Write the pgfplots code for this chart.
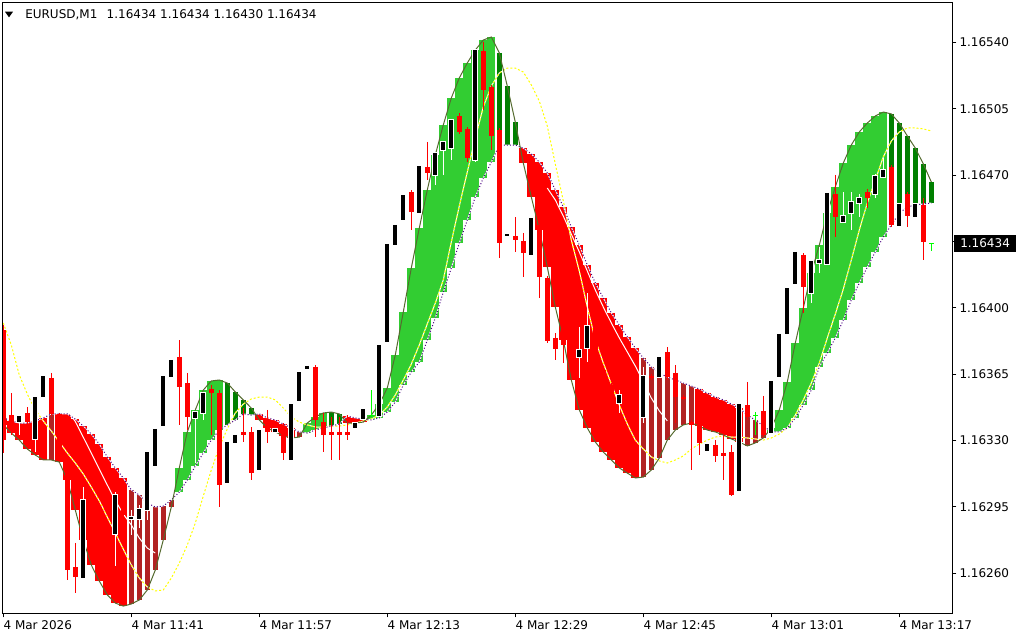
\documentclass[border=0pt]{standalone}
\usepackage{fontspec}
\setmainfont{DejaVu Sans}
\usepackage{pgfplots}
\usepackage{pgfplotstable}
\pgfplotsset{compat=1.18}

\definecolor{bandup}{RGB}{50,205,50}
\definecolor{bandtop}{RGB}{0,128,0}
\definecolor{banddn}{RGB}{255,0,0}
\definecolor{bandbot}{RGB}{178,34,34}
\definecolor{leadcol}{RGB}{85,107,47}
\definecolor{lagcol}{RGB}{75,0,130}
\definecolor{slowcol}{RGB}{255,255,0}
\definecolor{dojicol}{RGB}{0,255,0}

\newcommand{\tickfont}{\fontsize{9}{10}\selectfont}

% prices are stored in points above 1.16000 (434 = 1.16434)
% k = bar index (minutes from 11:25)
% lines: ol = leading line, ind = lagging line, yl = slow line
\pgfplotstableread{
k ol ind yl
0 338.2 341.9 392.0
1 333.9 340.3 380.4
2 330.2 339.2 364.5
3 325.5 339.2 354.5
4 322.3 340.3 346.1
5 319.7 341.9 340.3
6 319.7 344.0 335.0
7 318.6 344.0 329.2
8 309.1 344.0 323.4
9 293.3 341.3 318.1
10 277.5 337.6 312.3
11 264.3 333.4 305.4
12 255.8 328.1 298.1
13 248.5 321.3 289.6
14 244.2 315.5 281.2
15 242.6 310.2 272.7
16 243.7 303.9 264.3
17 245.8 301.2 257.4
18 251.1 297.0 252.7
19 261.6 294.9 250.6
20 277.5 295.4 251.1
21 294.9 298.6 257.4
22 315.5 302.8 265.3
23 334.5 309.1 274.8
24 346.1 316.5 286.4
25 356.6 323.4 300.7
26 361.4 330.2 314.4
27 361.9 335.5 326.6
28 360.3 338.2 336.1
29 355.6 340.8 344.5
30 351.4 344.0 349.2
31 347.1 343.4 351.9
32 340.8 344.0 352.9
33 336.6 341.9 352.9
34 334.5 340.8 351.4
35 332.4 338.7 347.1
36 331.3 336.6 342.4
37 331.8 334.5 339.7
38 339.2 333.9 338.2
39 342.4 335.5 337.1
40 344.5 336.6 337.1
41 345.0 337.6 337.6
42 344.0 338.7 337.6
43 339.2 342.9 338.2
44 339.2 341.9 339.2
45 339.7 341.3 340.3
46 343.4 340.8 341.3
47 349.2 341.9 343.4
48 357.7 345.0 347.7
49 375.1 350.3 354.0
50 397.8 359.3 361.9
51 421.0 366.1 370.3
52 442.1 371.4 380.4
53 462.2 383.0 391.5
54 480.6 394.6 402.5
55 496.5 408.3 414.7
56 510.7 421.0 434.7
57 521.3 434.2 453.7
58 529.2 446.3 471.7
59 536.0 458.5 489.6
60 541.3 468.5 506.0
61 542.9 476.9 517.0
62 534.5 485.9 523.9
63 517.0 485.9 526.5
64 498.0 485.9 526.5
65 476.4 484.3 524.4
66 458.5 481.2 517.6
67 441.1 476.9 509.1
68 421.5 471.1 495.9
69 400.4 462.2 475.9
70 383.0 453.2 456.4
71 361.9 442.6 435.8
72 346.1 433.1 419.4
73 336.6 422.6 400.4
74 329.2 413.1 383.0
75 323.9 405.2 370.9
76 319.7 397.3 359.8
77 315.5 390.9 348.7
78 312.8 384.6 338.7
79 310.2 378.8 330.2
80 310.7 373.5 325.5
81 314.4 368.8 321.3
82 320.7 365.6 319.2
83 330.2 363.5 318.1
84 335.5 361.9 319.7
85 338.2 360.3 321.8
86 339.2 358.7 325.5
87 337.6 357.2 328.1
88 335.5 355.0 330.2
89 334.5 352.9 331.8
90 332.9 351.4 332.4
91 330.8 349.2 331.8
92 329.2 347.1 331.8
93 327.1 343.4 331.3
94 328.7 340.8 330.8
95 331.3 337.6 330.2
96 336.6 334.5 331.3
97 346.1 334.5 333.4
98 360.9 336.6 336.6
99 381.4 341.9 343.4
100 399.9 348.7 351.4
101 418.4 356.6 360.3
102 433.1 368.8 370.9
103 450.0 376.2 384.1
104 463.8 384.1 396.7
105 476.4 393.6 409.9
106 485.9 404.1 425.2
107 492.8 413.1 441.1
108 497.5 421.5 455.3
109 501.2 429.5 467.4
110 503.3 437.4 479.6
111 502.3 443.7 488.0
112 497.5 450.0 492.8
113 490.7 453.2 494.9
114 484.3 454.3 494.9
115 475.9 454.8 494.4
116 466.4 455.3 493.3
}\lines

% white signal line, where it runs inside the falling band
\pgfplotstableread{
k w
8 346.1
9 340.0
10 331.7
11 323.3
12 314.9
13 306.5
14 298.2
15 291.2
16 285.4
17 278.5
18 273.2
19 270.6
}\whiteA

\pgfplotstableread{
k w
68 463.2
69 456.9
70 448.4
71 438.9
72 429.5
73 419.4
74 409.4
75 400.4
76 392.0
77 384.1
78 376.7
79 369.3
80 360.9
81 352.4
82 345.6
83 340.3
}\whiteB

% band bars, one table per colour: hi and lo of each bar
\pgfplotstableread{
k hi lo
22 315.5 302.8
23 334.5 309.1
24 346.1 316.5
25 356.6 323.4
26 361.4 330.2
27 361.9 335.5
38 339.2 333.9
39 342.4 335.5
40 344.5 336.6
46 343.4 340.8
47 349.2 341.9
48 357.7 345.0
49 375.1 350.3
50 397.8 359.3
51 421.0 366.1
52 442.1 371.4
53 462.2 383.0
54 480.6 394.6
55 496.5 408.3
56 510.7 421.0
57 521.3 434.2
58 529.2 446.3
59 536.0 458.5
60 541.3 468.5
61 542.9 476.9
96 336.6 334.5
97 346.1 334.5
98 360.9 336.6
99 381.4 341.9
100 399.9 348.7
101 418.4 356.6
102 433.1 368.8
103 450.0 376.2
104 463.8 384.1
105 476.4 393.6
106 485.9 404.1
107 492.8 413.1
108 497.5 421.5
109 501.2 429.5
110 503.3 437.4
}\bandup

\pgfplotstableread{
k hi lo
28 360.3 338.2
29 355.6 340.8
30 351.4 344.0
31 347.1 343.4
41 345.0 337.6
42 344.0 338.7
62 534.5 485.9
63 517.0 485.9
64 498.0 485.9
111 502.3 443.7
112 497.5 450.0
113 490.7 453.2
114 484.3 454.3
115 475.9 454.8
116 466.4 455.3
}\bandtop

\pgfplotstableread{
k hi lo
0 341.9 338.2
1 340.3 333.9
2 339.2 330.2
3 339.2 325.5
4 340.3 322.3
5 341.9 319.7
7 344.0 318.6
8 344.0 309.1
9 341.3 293.3
10 337.6 277.5
11 333.4 264.3
12 328.1 255.8
13 321.3 248.5
14 315.5 244.2
15 310.2 242.6
32 344.0 340.8
33 341.9 336.6
34 340.8 334.5
35 338.7 332.4
36 336.6 331.3
43 342.9 339.2
44 341.9 339.2
45 341.3 339.7
65 484.3 476.4
66 481.2 458.5
67 476.9 441.1
68 471.1 421.5
69 462.2 400.4
70 453.2 383.0
71 442.6 361.9
72 433.1 346.1
73 422.6 336.6
74 413.1 329.2
75 405.2 323.9
76 397.3 319.7
77 390.9 315.5
78 384.6 312.8
79 378.8 310.2
87 357.2 337.6
88 355.0 335.5
89 352.9 334.5
90 351.4 332.9
91 349.2 330.8
92 347.1 329.2
}\banddn

\pgfplotstableread{
k hi lo
6 344.0 319.7
16 303.9 243.7
17 301.2 245.8
18 297.0 251.1
19 294.9 261.6
20 295.4 277.5
21 298.6 294.9
37 334.5 331.8
80 373.5 310.7
81 368.8 314.4
82 365.6 320.7
83 363.5 330.2
84 361.9 335.5
85 360.3 338.2
86 358.7 339.2
93 343.4 327.1
94 340.8 328.7
95 337.6 331.3
}\bandbot

% rising candles
\pgfplotstableread{
k o h l c
2 339.7 343.4 332.9 342.9
4 330.8 353.5 323.9 352.9
5 352.9 364.5 352.4 364.0
10 257.4 305.4 257.4 298.6
14 280.6 302.8 263.8 301.2
16 288.6 293.3 280.1 289.6
17 288.6 295.9 283.8 293.8
18 293.3 325.0 288.0 323.9
19 316.5 336.6 315.5 336.1
20 337.6 364.5 336.6 364.0
21 363.5 373.0 363.0 372.5
24 341.9 345.5 318.1 345.0
25 344.5 355.6 340.8 355.0
28 307.5 329.7 307.0 329.2
29 328.7 333.4 328.1 332.9
32 314.4 336.1 313.9 335.5
34 334.5 336.6 333.9 336.1
36 319.7 349.8 319.2 349.2
37 350.8 366.6 350.3 366.1
38 367.7 369.8 367.2 369.3
44 336.6 339.7 336.1 339.2
45 341.3 347.1 340.8 346.6
47 342.9 380.9 342.4 380.4
48 382.0 434.2 381.4 433.7
49 433.1 444.2 432.6 443.7
50 446.3 460.1 445.8 459.5
52 450.0 475.3 449.5 474.8
54 470.1 482.2 464.8 481.7
55 483.3 488.0 470.1 487.5
56 484.3 499.6 478.0 499.1
59 478.0 536.6 476.9 536.0
63 437.9 439.5 437.4 438.9
66 427.9 447.9 427.3 447.4
72 374.0 389.9 363.0 377.7
73 378.8 407.8 371.4 390.4
77 349.8 356.6 344.5 354.0
80 342.4 368.8 339.2 364.0
82 363.5 374.6 363.0 374.0
88 324.4 328.7 323.9 328.1
92 303.3 349.8 302.8 349.2
96 333.9 361.9 333.4 361.4
97 363.5 386.7 363.0 386.2
98 386.2 411.0 385.6 410.4
99 412.6 430.0 412.0 429.5
101 407.8 425.2 402.5 424.7
102 423.6 432.1 418.4 425.2
103 423.1 461.1 422.6 460.6
105 445.3 461.1 444.7 448.4
106 450.0 461.1 441.1 455.8
107 455.3 460.1 447.9 457.9
109 460.1 470.6 457.9 469.6
110 469.0 479.1 468.5 472.7
112 443.2 455.3 442.6 454.8
114 447.9 455.3 447.4 454.8
}\bull

% falling candles
\pgfplotstableread{
k o h l c
0 388.3 390.9 323.4 330.2
1 343.4 355.0 332.9 339.2
3 344.5 347.6 338.2 339.7
6 363.0 365.6 342.9 344.0
7 344.0 344.5 320.7 322.3
8 319.7 322.3 256.4 261.6
9 263.2 275.9 249.5 257.9
11 298.6 299.6 288.0 290.7
12 290.7 291.2 280.1 282.8
13 282.8 283.8 277.5 279.6
15 301.2 302.3 288.0 290.7
22 374.0 383.0 338.2 358.2
23 360.3 365.6 335.5 342.4
26 357.2 359.3 332.9 355.0
27 355.0 356.6 294.9 306.5
30 334.5 347.1 329.2 332.9
31 334.5 337.1 309.1 312.8
33 340.8 346.1 328.7 334.5
35 336.6 339.2 319.7 323.4
39 368.8 369.8 331.8 340.8
40 339.7 344.5 323.9 332.9
41 334.5 342.4 319.7 332.9
42 334.5 342.4 319.7 332.9
43 334.5 343.4 330.2 332.9
51 461.1 462.0 441.1 450.6
53 474.3 487.5 467.4 471.1
57 501.2 502.8 491.7 492.8
58 494.4 495.4 476.9 479.1
60 535.5 540.3 504.4 514.9
61 516.5 517.6 483.3 490.7
62 493.8 494.9 426.3 434.2
64 437.9 447.9 429.5 435.8
65 435.3 439.5 416.3 428.9
67 443.7 444.7 405.2 416.3
68 415.7 416.8 381.4 382.5
69 384.1 386.7 372.5 378.3
70 404.1 409.4 370.9 380.4
71 380.4 383.0 367.2 372.5
74 389.3 390.4 364.5 367.2
75 367.2 368.2 356.6 359.3
76 359.3 360.3 351.4 352.4
78 354.0 355.0 346.1 348.7
79 348.7 349.8 340.8 342.4
81 364.0 365.1 361.9 363.0
83 376.7 379.3 361.9 363.5
84 365.6 369.8 339.2 352.9
85 352.9 354.0 351.4 351.9
86 339.7 340.8 314.4 338.2
87 338.2 339.2 322.3 328.7
89 327.6 330.2 318.6 321.8
90 323.4 332.9 309.1 321.8
91 323.9 327.6 300.7 301.2
93 348.7 360.9 340.8 342.4
95 345.5 353.5 331.8 332.9
100 427.9 428.9 397.3 411.0
104 460.1 470.1 437.4 447.9
108 461.1 462.7 452.7 457.9
111 474.3 475.3 442.6 443.7
113 460.1 461.1 442.6 448.4
115 454.3 457.9 425.2 434.7
}\bear

% doji candles
\pgfplotstableread{
k o h l c
46 343.4 356.6 342.4 343.4
94 343.4 345.0 332.9 343.4
116 434 434 430 434
}\doji

\pgfplotsset{
  vbar/.style 2 args={draw=none, mark=none,
    error bars/y dir=minus, error bars/y explicit,
    error bars/error mark=none,
    error bars/error bar style={line width=#2, draw=#1, solid}},
}

\begin{document}
\begin{tikzpicture}
\path[use as bounding box] (0,0) rectangle (768pt,480pt);
\fill[white] (0,0) rectangle (768pt,480pt);
\begin{axis}[
  at={(1.875pt,20.03pt)}, anchor=south west,
  width=712.35pt, height=457.95pt, scale only axis,
  xmin=-0.1, xmax=118.625, ymin=238.8, ymax=561.0,
  axis on top,
  axis line style={line width=0.75pt, black},
  xtick={0,16,32,48,64,80,96,112},
  xticklabels={4 Mar 2026,4 Mar 11:41,4 Mar 11:57,4 Mar 12:13,4 Mar 12:29,4 Mar 12:45,4 Mar 13:01,4 Mar 13:17},
  ytick={260,295,330,365,400,435,470,505,540},
  yticklabels={1.16260,1.16295,1.16330,1.16365,1.16400,,1.16470,1.16505,1.16540},
  xtick pos=bottom, ytick pos=right, yticklabel pos=right,
  tick align=outside, major tick length=3pt,
  tick style={line width=0.75pt, black},
  xticklabel style={anchor=north west, inner sep=0pt, yshift=-2.5pt, font=\tickfont},
  yticklabel style={anchor=west, inner sep=0pt, xshift=2.2pt, font=\tickfont},
]
% indicator band
\addplot[vbar={bandup}{6pt}] table[x=k, y=hi,
  y error minus expr={\thisrow{hi}-\thisrow{lo}}] {\bandup};
\addplot[vbar={bandtop}{3.75pt}] table[x=k, y=hi,
  y error minus expr={\thisrow{hi}-\thisrow{lo}}] {\bandtop};
\addplot[vbar={banddn}{6pt}] table[x=k, y=hi,
  y error minus expr={\thisrow{hi}-\thisrow{lo}}] {\banddn};
\addplot[vbar={bandbot}{3.75pt}] table[x=k, y=hi,
  y error minus expr={\thisrow{hi}-\thisrow{lo}}] {\bandbot};

% lines
\addplot[white, line width=0.75pt] table[x=k, y=w] {\whiteA};
\addplot[white, line width=0.75pt] table[x=k, y=w] {\whiteB};
\addplot[white, line width=0.75pt] table[x=k, y=yl] {\lines};
\addplot[slowcol, line width=0.75pt, dash pattern=on 1.5pt off 1.5pt] table[x=k, y=yl] {\lines};
\addplot[white, line width=0.75pt] table[x=k, y=ind] {\lines};
\addplot[lagcol, line width=0.75pt, dash pattern=on 0.75pt off 1.5pt] table[x=k, y=ind] {\lines};
\addplot[leadcol, line width=0.75pt] table[x=k, y=ol] {\lines};

% falling candles
\addplot[vbar={banddn}{0.75pt}] table[x=k, y=h,
  y error minus expr={\thisrow{h}-\thisrow{l}}] {\bear};
\addplot[vbar={banddn}{3.75pt}] table[x=k, y=o,
  y error minus expr={\thisrow{o}-\thisrow{c}}] {\bear};

% rising candles
\addplot[vbar={white}{0.75pt}] table[x=k, y=h,
  y error minus expr={\thisrow{h}-\thisrow{l}}] {\bull};
\addplot[vbar={white}{4.5pt}] table[x=k, y expr={\thisrow{c}+0.53},
  y error minus expr={\thisrow{c}-\thisrow{o}+1.06}] {\bull};
\addplot[vbar={black}{3pt}] table[x=k, y=c,
  y error minus expr={\thisrow{c}-\thisrow{o}}] {\bull};

% doji candles
\addplot[vbar={dojicol}{0.75pt}] table[x=k, y=h,
  y error minus expr={\thisrow{h}-\thisrow{l}}] {\doji};
\addplot[only marks, mark=-, mark size=1.9pt,
  mark options={draw=dojicol, line width=0.75pt}] table[x=k, y=o] {\doji};
\end{axis}

% chart header and current price label
\fill[black] (3.75pt,471.2pt) -- (9.75pt,471.2pt) -- (6.75pt,467.0pt) -- cycle;
\node[anchor=base west, inner sep=0pt, font=\tickfont] at (18.75pt,465.75pt)
  {EURUSD,M1\hspace*{7pt}1.16434 1.16434 1.16430 1.16434};
\node[fill=black, text=white, font=\tickfont, anchor=west, inner xsep=4.5pt,
  inner ysep=0pt, minimum height=12.4pt] at (715.5pt,297.4pt) {1.16434};
\end{tikzpicture}
\end{document}
